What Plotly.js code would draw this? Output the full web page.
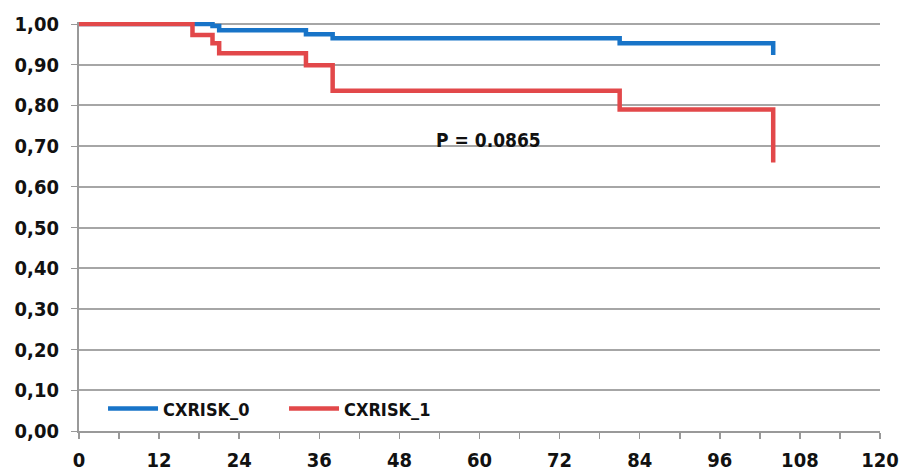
<!DOCTYPE html>
<html><head><meta charset="utf-8">
<script src="https://cdn.plot.ly/plotly-3.0.1.min.js"></script>
<style>html,body{margin:0;padding:0;background:#fff}#c{width:903px;height:474px}</style>
</head><body><div id="c"></div>
<script>
const months0 = [0, 20, 21, 34, 38, 81, 104, 104];
const surv0   = [1, 0.995, 0.985, 0.975, 0.965, 0.953, 0.953, 0.924];
const months1 = [0, 17, 20, 21, 34, 38, 81, 104, 104];
const surv1   = [1, 0.973, 0.953, 0.928, 0.899, 0.836, 0.79, 0.79, 0.66];
const seriesNames = ['CXRISK_0', 'CXRISK_1'];
const yTicks = [0, 0.1, 0.2, 0.3, 0.4, 0.5, 0.6, 0.7, 0.8, 0.9, 1.0];
const yTickText = ['0,00','0,10','0,20','0,30','0,40','0,50','0,60','0,70','0,80','0,90','1,00'];
const xTicks = [0, 12, 24, 36, 48, 60, 72, 84, 96, 108, 120];
const pText = 'P = 0.0865';

const fam = '"DejaVu Sans Condensed", "Liberation Sans Narrow", Arial, sans-serif';
const tf = {family: fam, size: 20, color: '#111', weight: 'bold'};
const traces = [
  {x: months0, y: surv0, name: seriesNames[0], mode: 'lines', line: {shape: 'hv', color: '#1874C8', width: 4.5}},
  {x: months1, y: surv1, name: seriesNames[1], mode: 'lines', line: {shape: 'hv', color: '#E2484A', width: 4.5}}
];
const layout = {
  width: 903, height: 474,
  margin: {l: 79, r: 23, t: 22, b: 43, pad: 0},
  paper_bgcolor: '#fff', plot_bgcolor: '#fff',
  font: tf,
  showlegend: true,
  legend: {orientation: 'h', x: 0.03, y: 0.054, xanchor: 'left', yanchor: 'middle',
           bgcolor: 'rgba(0,0,0,0)', font: {family: fam, size: 18, color: '#111', weight: 'bold'},
           entrywidth: 116, entrywidthmode: 'pixels', itemwidth: 50, tracegroupgap: 0},
  xaxis: {range: [0, 120], tickvals: xTicks, ticktext: xTicks.map(String), showgrid: false, zeroline: false,
          showline: true, linecolor: '#999', linewidth: 2, ticks: 'outside', ticklen: 6, tickcolor: '#999', tickwidth: 1.5,
          minor: {dtick: 6, ticks: 'outside', ticklen: 6, tickcolor: '#999', tickwidth: 1.5},
          ticklabelstandoff: 4, tickfont: tf, fixedrange: true},
  yaxis: {range: [0, 1.005], tickvals: yTicks, ticktext: yTickText, showgrid: true, gridcolor: '#a6a6a6', gridwidth: 2,
          zeroline: false, showline: true, linecolor: '#999', linewidth: 2, ticks: 'outside', ticklen: 6, tickcolor: '#999',
          ticklabelstandoff: 8, tickfont: tf, fixedrange: true},
  annotations: [{x: 61.4, y: 0.715, xref: 'x', yref: 'y', text: pText, showarrow: false,
                 font: {family: fam, size: 19, color: '#111', weight: 'bold'}}]
};
Plotly.newPlot('c', traces, layout, {displayModeBar: false, staticPlot: true});
</script></body></html>
